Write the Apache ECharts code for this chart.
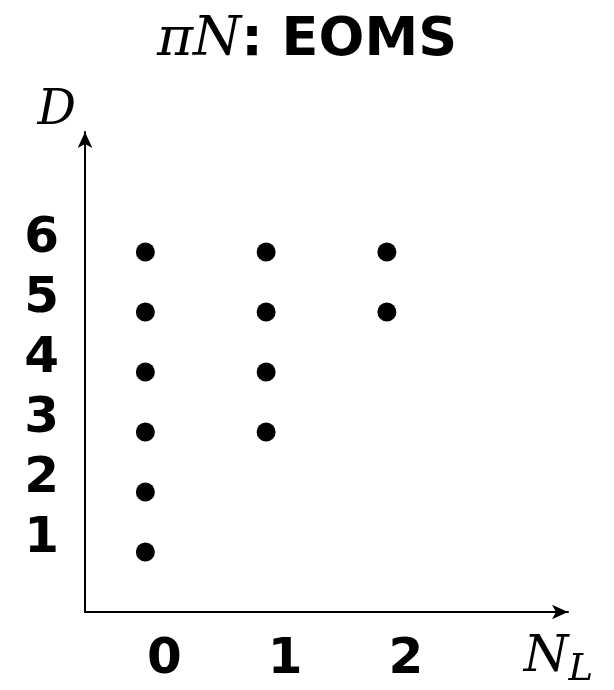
<!DOCTYPE html>
<html>
<head>
<meta charset="utf-8">
<script src="https://cdn.jsdelivr.net/npm/echarts@6/dist/echarts.min.js"></script>
<style>
  html, body { margin: 0; padding: 0; background: #fff; }
  #chart { width: 614px; height: 690px; }
</style>
</head>
<body>
<div id="chart"></div>
<script>
// Allowed (N_L, D) combinations for the πN EOMS power counting
const nlValues = [0, 0, 0, 0, 0, 0, 1, 1, 1, 1, 2, 2];
const dValues  = [1, 2, 3, 4, 5, 6, 3, 4, 5, 6, 5, 6];
const xTicks = [0, 1, 2];
const yTicks = [1, 2, 3, 4, 5, 6];

const points = nlValues.map((x, i) => [x, dValues[i]]);

const chart = echarts.init(document.getElementById('chart'), null, { renderer: 'canvas' });

const digitFont = { fontFamily: 'DejaVu Sans', fontWeight: 'bold', fontSize: 50, color: '#000' };
const mathFont = { fontFamily: 'DejaVu Serif', fontStyle: 'italic', fontWeight: 'normal', color: '#000' };

chart.setOption({
  backgroundColor: '#fff',
  animation: false,
  title: {
    text: '{m|πN}{t|: EOMS}',
    left: 'center',
    top: 8,
    textStyle: {
      rich: {
        m: Object.assign({ fontSize: 55 }, mathFont),
        t: { fontFamily: 'DejaVu Sans', fontWeight: 'bold', fontSize: 54, color: '#000' }
      }
    }
  },
  grid: { left: 85, right: 46, top: 132, bottom: 78, containLabel: false, outerBoundsMode: 'none' },
  xAxis: {
    type: 'value',
    min: -0.5,
    max: 3.5,
    splitLine: { show: false },
    axisTick: { show: false },
    axisLine: {
      onZero: false,
      symbol: ['none', 'arrow'],
      symbolSize: [11, 16],
      lineStyle: { color: '#000', width: 2 }
    },
    axisLabel: Object.assign({
      customValues: xTicks,
      margin: 23,
      align: 'center',
      padding: [0, 0, 0, 38]
    }, digitFont),
    name: '{n|N}{s|L}',
    nameLocation: 'end',
    nameGap: 25,
    nameTextStyle: {
      align: 'right',
      verticalAlign: 'top',
      padding: [14, 0, 0, 0],
      rich: {
        n: Object.assign({ fontSize: 51 }, mathFont),
        s: Object.assign({ fontSize: 37, padding: [26, 0, 0, 0] }, mathFont)
      }
    }
  },
  yAxis: {
    type: 'value',
    min: 0,
    max: 8,
    splitLine: { show: false },
    axisTick: { show: false },
    axisLine: {
      onZero: false,
      symbol: ['none', 'arrow'],
      symbolSize: [11, 16],
      lineStyle: { color: '#000', width: 2 }
    },
    axisLabel: {
      customValues: yTicks,
      margin: 26,
      formatter: '{a|{value}}',
      rich: {
        a: Object.assign({ padding: [0, 0, 26, 0] }, digitFont)
      }
    },
    name: 'D',
    nameLocation: 'end',
    nameGap: -4,
    nameTextStyle: Object.assign({
      fontSize: 48,
      align: 'right',
      verticalAlign: 'bottom',
      padding: [0, 9, 0, 0]
    }, mathFont)
  },
  series: [{
    type: 'scatter',
    data: points,
    symbol: 'circle',
    symbolSize: 19,
    itemStyle: { color: '#000', opacity: 1 }
  }]
});
</script>
</body>
</html>
